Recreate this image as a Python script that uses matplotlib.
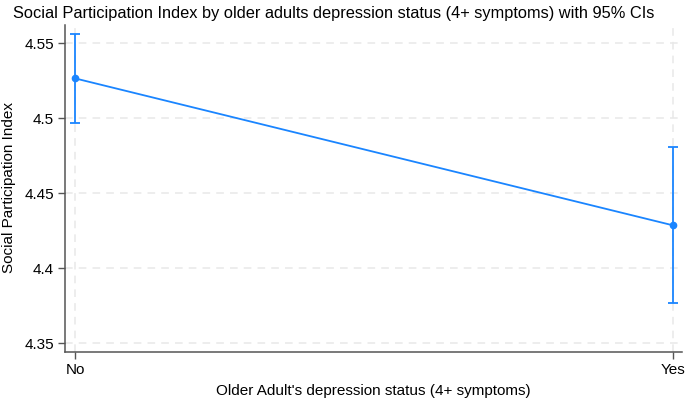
import numpy as np
import matplotlib
matplotlib.use('Agg')
from matplotlib import pyplot as plt

plt.rcParams['font.family'] = ['Liberation Sans', 'DejaVu Sans']

categories = ['No', 'Yes']
means = [4.5265, 4.4285]
ci_low = [4.4965, 4.3770]
ci_high = [4.5560, 4.4805]
yticks = [4.35, 4.4, 4.45, 4.5, 4.55]
ytick_labels = ['4.35', '4.4', '4.45', '4.5', '4.55']

line_color = '#1a85ff'
grid_color = '#e8e8e8'
axis_color = '#555555'

fig = plt.figure(figsize=(6.88, 3.99), dpi=100)
ax = fig.add_axes([0.0945, 0.1178, 0.8965, 0.8192])

x = np.arange(len(categories))
means = np.array(means)
err = np.array([means - np.array(ci_low), np.array(ci_high) - means])
ax.errorbar(x, means, yerr=err, color=line_color, lw=1.3, marker='o', ms=4.5,
            capsize=3.5, capthick=1.3, elinewidth=1.3, zorder=3)

ax.set_xlim(-0.0167, 1.015)
ax.set_ylim(4.344, 4.562)
ax.set_xticks(x)
ax.set_xticklabels(categories, fontsize=11)
ax.set_yticks(yticks)
ax.set_yticklabels(ytick_labels, fontsize=11)

ax.grid(True, color=grid_color, ls=(0, (5, 4)), lw=1.1, zorder=0)
for s in ['top', 'right']:
    ax.spines[s].set_visible(False)
for s in ['left', 'bottom']:
    ax.spines[s].set_color(axis_color)
    ax.spines[s].set_linewidth(1.1)
ax.tick_params(direction='out', length=5, width=1.0, color=axis_color, pad=3)

# y label placed by hand so it stays inside the figure
fig.text(0.013, 0.53, 'Social Participation Index', fontsize=11, rotation=90,
         ha='center', va='center')
ax.set_xlabel("Older Adult's depression status (4+ symptoms)", fontsize=11, labelpad=5)
fig.text(0.019, 0.967, 'Social Participation Index by older adults depression status (4+ symptoms) with 95% CIs',
         fontsize=11.8, ha='left', va='center')

fig.savefig('out.png', dpi=100)
